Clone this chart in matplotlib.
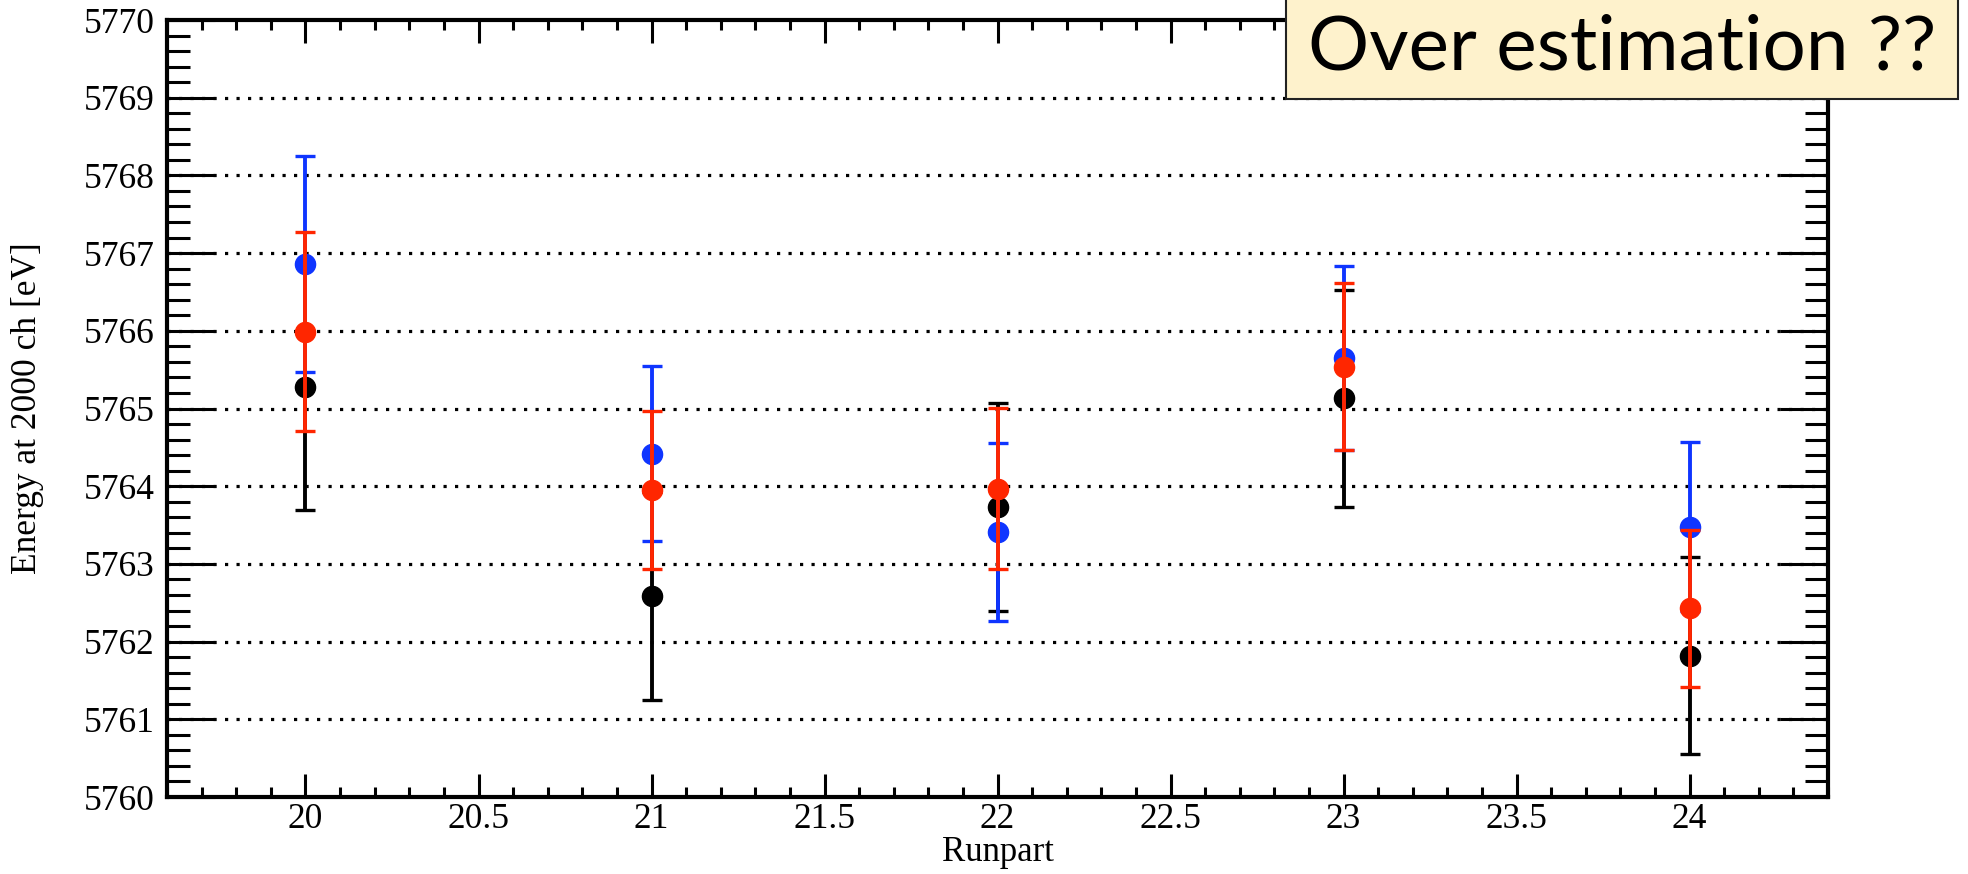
import matplotlib.pyplot as plt
from matplotlib.ticker import MultipleLocator, FormatStrFormatter
from matplotlib.patches import Rectangle

runpart = [20, 21, 22, 23, 24]

black_val = [5765.28, 5762.59, 5763.73, 5765.13, 5761.82]
black_err = [1.59, 1.34, 1.34, 1.40, 1.27]

blue_val = [5766.86, 5764.42, 5763.41, 5765.65, 5763.48]
blue_err = [1.39, 1.13, 1.14, 1.18, 1.09]

red_val = [5765.99, 5763.95, 5763.97, 5765.54, 5762.43]
red_err = [1.28, 1.02, 1.035, 1.07, 1.01]

plt.rcParams['font.family'] = ['Liberation Serif', 'DejaVu Serif']

fig = plt.figure(figsize=(19.68, 8.74), dpi=100)
ax = fig.add_axes([0.0849, 0.0881, 0.9289 - 0.0849, 0.9771 - 0.0881])

series = [
    (black_val, black_err, 'black'),
    (blue_val, blue_err, '#0f35ff'),
    (red_val, red_err, '#ff2600'),
]
for i, (vals, errs, col) in enumerate(series):
    ax.errorbar(runpart, vals, yerr=errs, fmt='o', color=col, ecolor=col,
                markersize=14.5, elinewidth=2.8, capsize=7, capthick=2.4,
                zorder=3 + i)

ax.set_xlim(19.6, 24.4)
ax.set_ylim(5760, 5770)

ax.xaxis.set_major_locator(MultipleLocator(0.5))
ax.xaxis.set_minor_locator(MultipleLocator(0.1))
ax.yaxis.set_major_locator(MultipleLocator(1))
ax.yaxis.set_minor_locator(MultipleLocator(0.2))
ax.xaxis.set_major_formatter(FormatStrFormatter('%g'))
ax.yaxis.set_major_formatter(FormatStrFormatter('%d'))

ax.tick_params(axis='both', which='both', direction='in', top=True, right=True,
               width=2.2, labelsize=25.5, color='black')
ax.tick_params(axis='x', which='major', length=16.5, pad=4)
ax.tick_params(axis='x', which='minor', length=7.5)
ax.tick_params(axis='y', which='major', length=34.5, pad=9)
ax.tick_params(axis='y', which='minor', length=16.5)

for sp in ax.spines.values():
    sp.set_linewidth(3)

for v in range(5761, 5770):
    ax.axhline(v, color='black', lw=2.3, linestyle=(0, (1, 2.6)), zorder=1)

ax.set_xlabel('Runpart', fontsize=25, labelpad=0)
ax.set_ylabel('Energy at 2000 ch [eV]', fontsize=25.5)
ax.yaxis.set_label_coords(-0.074, 0.5)

# note box in the top right corner
box = Rectangle((1286 / 1968, (874 - 99) / 874), (1958 - 1286) / 1968, 0.2,
                transform=fig.transFigure, facecolor='#fef2cc',
                edgecolor='#222222', lw=1.5, zorder=10, clip_on=False)
fig.patches.append(box)
fig.text(0.5 * (1286 + 1958) / 1968, (874 - 70) / 874, 'Over estimation ??',
         family='Lato', fontsize=55, ha='center', va='baseline', zorder=11)

plt.savefig('out.png', dpi=100)
